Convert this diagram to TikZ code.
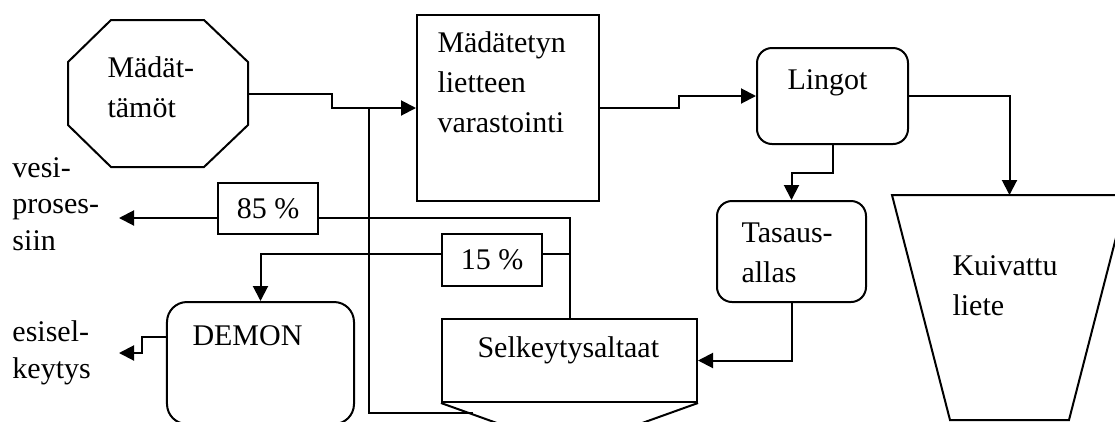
\documentclass[tikz,border=0pt]{standalone}
\usepackage{fontspec}
\setmainfont{Liberation Serif}
\usetikzlibrary{arrows.meta}
\tikzset{
  wire/.style={line width=0.8pt},
  flow/.style={wire,-{Triangle[length=6pt,width=6pt]}},
  blk/.style={draw,line width=0.8pt,inner sep=0pt},
  rblk/.style={blk,rounded corners=6pt},
  txt/.style={inner sep=0pt,anchor=base west,align=left,font=\fontsize{12pt}{16pt}\selectfont},
  side/.style={txt,font=\fontsize{12pt}{14.6pt}\selectfont},
}
\begin{document}
\begin{tikzpicture}[x=0.4pt,y=-0.4pt]
\useasboundingbox (0,0) rectangle (1115,421);
\clip (0,0) rectangle (1115,421);
% octagon and hopper shapes
\draw[wire] (68,62) -- (111,20) -- (204,20) -- (248,62) -- (248,125) -- (204,167) -- (111,167) -- (68,125) -- cycle;
\coordinate (mad) at (248,93.5);
\draw[wire] (892,195) -- (1127,195) -- (1069,420) -- (950,420) -- cycle;
\coordinate (kuiv) at (1009.5,195);

\node[blk,minimum width=72.8pt,minimum height=74.4pt] (stor) at (508,108) {};
\node[rblk,minimum width=60.4pt,minimum height=38.4pt] (ling) at (832.5,96) {};
\node[rblk,minimum width=59.6pt,minimum height=40.4pt] (tas) at (791.5,251.5) {};
\node[blk,minimum width=102pt,minimum height=33.2pt] (sel) at (569.5,360.5) {};
\node[rblk,rounded corners=8pt,minimum width=74.8pt,minimum height=48.8pt] (demon) at (260.5,363) {};
\node[blk,minimum width=40pt,minimum height=20.4pt,font=\fontsize{12pt}{14pt}\selectfont] (p85) at (268,208.5) {85 \%};
\node[blk,minimum width=40pt,minimum height=20.8pt,font=\fontsize{12pt}{14pt}\selectfont] (p15) at (492,260) {15 \%};

\node[txt] (madt) at (107,117) {Mädät-\\tämöt};
\node[txt] (stort) at (437,132) {Mädätetyn\\lietteen\\varastointi};
\node[txt] (lingt) at (787,89) {Lingot};
\node[txt] (tast) at (741,282) {Tasaus-\\allas};
\node[txt] (kuivt) at (952,315) {Kuivattu\\liete};
\node[txt] (demt) at (192,345) {DEMON};
\node[txt] (selt) at (477,357) {Selkeytysaltaat};
\node[side] (vest) at (12,250) {vesi-\\proses-\\siin};
\node[side] (esit) at (12,378) {esisel-\\keytys};

\coordinate (jn) at (369,108);
\coordinate (hopin) at (473,413);
\coordinate (vout) at (119,218);
\coordinate (eout) at (119,353);
\coordinate (split) at (569.5,254);

\draw[wire] (sel.south west) -- ++(106,38);
\draw[wire] (sel.south east) -- ++(-106,38);
\draw[flow] (mad) -- ++(84,0) |- (stor.west);
\draw[wire] (jn) |- (hopin);
\draw[flow] (stor.east) -- ++(79,0) |- (ling.west);
\draw[flow] (ling.east) -| (kuiv);
\draw[flow] (ling.south) -- ++(0,28) -| (tas.north);
\draw[flow] (tas.south) |- (sel.east);
\draw[wire] (sel.north) |- (p85.east |- vout);
\draw[flow] (p85.west |- vout) -- (vout);
\draw[wire] (split) -- (p15.east |- split);
\draw[flow] (p15.west |- split) -| (demon.north);
\draw[flow] (demon.west |- 0,337) -- ++(-24,0) |- (eout);
\end{tikzpicture}
\end{document}
